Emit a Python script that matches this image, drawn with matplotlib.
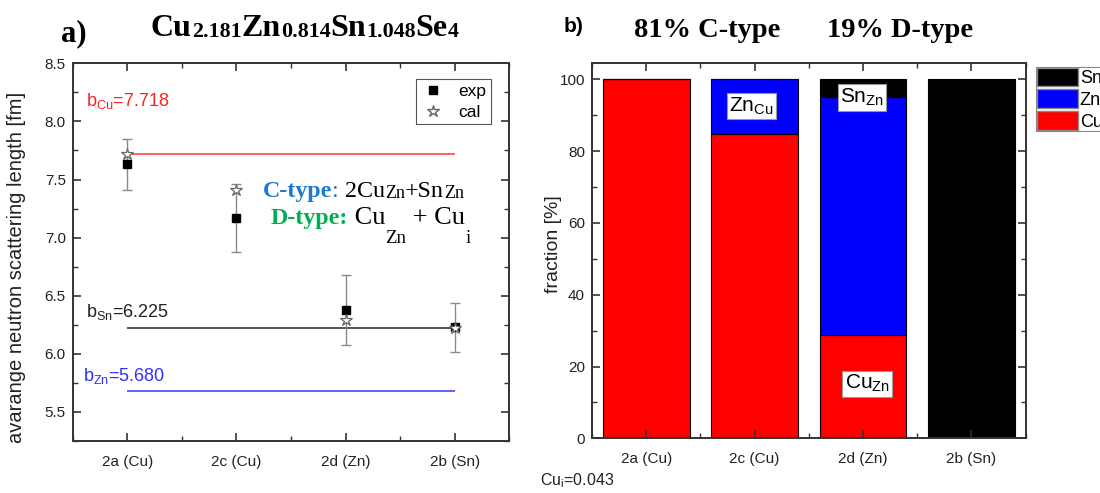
import matplotlib
matplotlib.use("Agg")
import matplotlib.pyplot as plt
from matplotlib.lines import Line2D
from matplotlib.patches import Patch
from matplotlib.ticker import MultipleLocator, FormatStrFormatter

plt.rcParams['font.family'] = ['Liberation Sans', 'DejaVu Sans']
plt.rcParams['mathtext.fontset'] = 'custom'
plt.rcParams['mathtext.rm'] = 'Liberation Sans'
plt.rcParams['mathtext.it'] = 'Liberation Sans:italic'
plt.rcParams['mathtext.bf'] = 'Liberation Sans:bold'

# ---------------- data ----------------
sites = ['2a (Cu)', '2c (Cu)', '2d (Zn)', '2b (Sn)']
b_exp = [7.63, 7.17, 6.38, 6.23]
b_err = [0.22, 0.295, 0.30, 0.21]
b_cal = [7.718, 7.41, 6.29, 6.225]
b_Cu = 7.718
b_Sn = 6.225
b_Zn = 5.680
frac_Cu = [100.0, 84.8, 28.7, 0.0]
frac_Zn = [0.0, 15.2, 66.3, 0.0]
frac_Sn = [0.0, 0.0, 5.0, 100.0]
Cu_i = 0.043

W, H = 1100, 493
fig = plt.figure(figsize=(W / 100, H / 100), dpi=100)

def axrect(l, t, r, b):
    return [l / W, (H - b) / H, (r - l) / W, (b - t) / H]

ax1 = fig.add_axes(axrect(72.7, 63.3, 509.3, 441))
ax2 = fig.add_axes(axrect(592, 63.3, 1025.7, 438.3))

xpos = list(range(1, len(sites) + 1))

def style(ax):
    for s in ax.spines.values():
        s.set_linewidth(1.4)
        s.set_color('#333333')
    ax.tick_params(which='both', direction='in', top=True, right=True,
                   color='#333333', labelsize=11, labelcolor='#222222')
    ax.tick_params(which='major', length=6, width=1.2)
    ax.tick_params(which='minor', length=3.5, width=1.0)
    ax.tick_params(axis='x', pad=10)
    ax.tick_params(axis='y', pad=5)

# ---------------- left panel ----------------
ax1.hlines(b_Cu, xpos[0], xpos[-1], color='#ff4545', lw=1.2)
ax1.hlines(b_Sn, xpos[0], xpos[-1], color='#333333', lw=1.2)
ax1.hlines(b_Zn, xpos[0], xpos[-1], color='#4545ff', lw=1.2)
ax1.errorbar(xpos, b_exp, yerr=b_err, fmt='none', ecolor='#8a8a8a',
             elinewidth=1.0, capsize=3.5, capthick=1.0)
ax1.plot(xpos, b_exp, 's', color='black', markersize=6, zorder=4)
ax1.plot(xpos, b_cal, '*', mfc='white', mec='#666666', mew=0.9,
         markersize=9, zorder=5)
ax1.set_xlim(0.5, 4.5)
ax1.set_ylim(5.25, 8.5)
ax1.set_xticks(xpos)
ax1.set_xticklabels(sites)
ax1.xaxis.set_minor_locator(MultipleLocator(0.5))
ax1.yaxis.set_major_locator(MultipleLocator(0.5))
ax1.yaxis.set_minor_locator(MultipleLocator(0.25))
ax1.yaxis.set_major_formatter(FormatStrFormatter('%.1f'))
style(ax1)
ax1.set_ylabel('avarange neutron scattering length [fm]', fontsize=14.5,
               color='#222222')
ax1.yaxis.set_label_coords(-0.107, 0.46)

ax1.text(0.622, 8.133, r'b$_{\rm Cu}$=7.718', color='#ff2020', fontsize=13,
         va='baseline', ha='left')
ax1.text(0.622, 6.32, r'b$_{\rm Sn}$=6.225', color='#222222', fontsize=13,
         va='baseline', ha='left')
ax1.text(0.596, 5.77, r'b$_{\rm Zn}$=5.680', color='#3030ff', fontsize=13,
         va='baseline', ha='left')

leg_handles = [Line2D([], [], marker='s', ls='none', color='black', markersize=6),
               Line2D([], [], marker='*', ls='none', mfc='white', mec='#666666',
                      markersize=9)]
leg1 = ax1.legend(leg_handles, ['exp', 'cal'], loc='upper right',
                  bbox_to_anchor=(0.958, 0.9576), fontsize=12.5, frameon=True,
                  fancybox=False, edgecolor='#555555', framealpha=1,
                  handlelength=1.5, handletextpad=0.7, borderpad=0.25,
                  labelspacing=0.35, borderaxespad=0)
leg1.get_frame().set_linewidth(0.8)


def chain(ax, x0, y0, pieces, coords='data'):
    t = None
    for txt, props, dy in pieces:
        if t is None:
            t = ax.annotate(txt, xy=(x0, y0), xycoords=coords,
                            xytext=(0, dy), textcoords='offset points',
                            va='baseline', ha='left', annotation_clip=False,
                            **props)
        else:
            t = ax.annotate(txt, xy=(1, y0), xycoords=(t, coords),
                            xytext=(0, dy), textcoords='offset points',
                            va='baseline', ha='left', annotation_clip=False,
                            **props)
    return t

serif = ['Liberation Serif', 'DejaVu Serif']
blue_c = '#1f78d2'
green_c = '#00b050'
chain(ax1, 2.24, 7.35, [
    ('C-type', dict(family=serif, weight='bold', color=blue_c, fontsize=17.3), 0),
    (': ', dict(family=serif, color=blue_c, fontsize=17.3), 0),
    ('2Cu', dict(family=serif, color='black', fontsize=17.3), 0),
    ('Zn', dict(family=serif, color='black', fontsize=13), -1),
    ('+Sn', dict(family=serif, color='black', fontsize=17.3), 0),
    ('Zn', dict(family=serif, color='black', fontsize=13), -1),
])
chain(ax1, 2.31, 7.12, [
    ('D-type:', dict(family=serif, weight='bold', color=green_c, fontsize=17.3), 0),
    (' Cu', dict(family=serif, color='black', fontsize=19), 0),
    ('Zn', dict(family=serif, color='black', fontsize=13.5), -14),
    (' + Cu', dict(family=serif, color='black', fontsize=19), 0),
    ('i', dict(family=serif, color='black', fontsize=13.5), -14),
])

# titles for panel a
fig.text(61 / W, (H - 41) / H, 'a)', family=serif, weight='bold',
         fontsize=22, va='baseline', ha='left')
big = dict(family=serif, weight='bold', color='black', fontsize=23)
small = dict(family=serif, weight='bold', color='black', fontsize=15.8)
chain(ax1, 151, H - 36, [
    ('Cu', big, 0), ('2.181', small, -1),
    ('Zn', big, 0), ('0.814', small, -1),
    ('Sn', big, 0), ('1.048', small, -1),
    ('Se', big, 0), ('4', small, -1),
], coords='figure pixels')

# ---------------- right panel ----------------
bw = 0.8
ax2.bar(xpos, frac_Cu, bw, color='#ff0000', edgecolor='black', lw=0.8,
        label='Cu')
ax2.bar(xpos, frac_Zn, bw, bottom=frac_Cu, color='#0000ff', edgecolor='black',
        lw=0.8, label='Zn')
bottom_Sn = [c + z for c, z in zip(frac_Cu, frac_Zn)]
ax2.bar(xpos, frac_Sn, bw, bottom=bottom_Sn, color='#000000',
        edgecolor='black', lw=0.8, label='Sn')
ax2.set_xlim(0.5, 4.5)
ax2.set_ylim(0, 104.5)
ax2.set_xticks(xpos)
ax2.set_xticklabels(sites)
ax2.xaxis.set_minor_locator(MultipleLocator(0.5))
ax2.yaxis.set_major_locator(MultipleLocator(20))
ax2.yaxis.set_minor_locator(MultipleLocator(10))
style(ax2)
ax2.set_ylabel('fraction [%]', fontsize=14, color='#222222')
ax2.yaxis.set_label_coords(-0.07, 0.518)

box = dict(facecolor='white', edgecolor='#999999', boxstyle='square,pad=0.12',
           lw=0.8)
ax2.text(1.97, 92.6, r'Zn$_{\rm Cu}$', ha='center', va='center', fontsize=15,
         bbox=box)
ax2.text(2.99, 95.0, r'Sn$_{\rm Zn}$', ha='center', va='center', fontsize=15,
         bbox=box)
ax2.text(3.04, 15.2, r'Cu$_{\rm Zn}$', ha='center', va='center', fontsize=15,
         bbox=box)

fig.text(564 / W, (H - 32) / H, 'b)', weight='bold', fontsize=15,
         va='baseline', ha='left')
fig.text(634 / W, (H - 37) / H, '81% C-type', family=serif, weight='bold',
         fontsize=20.5, va='baseline', ha='left')
fig.text(827 / W, (H - 37) / H, '19% D-type', family=serif, weight='bold',
         fontsize=20.5, va='baseline', ha='left')
fig.text(540 / W, 8 / H, r'Cu$_{\rm i}$=%.3f' % Cu_i, fontsize=11.5,
         color='#222222', va='baseline', ha='left')

handles = [Patch(facecolor='#000000', edgecolor='#888888', lw=1),
           Patch(facecolor='#0000ff', edgecolor='#888888', lw=1),
           Patch(facecolor='#ff0000', edgecolor='#888888', lw=1)]
leg2 = fig.legend(handles, ['Sn', 'Zn', 'Cu'], loc='upper left',
                  bbox_to_anchor=(1036 / W, (H - 66.7) / H), fontsize=13,
                  frameon=True, fancybox=False, edgecolor='#888888',
                  framealpha=1, handlelength=2.28, handleheight=1.17,
                  handletextpad=0.1, borderpad=0.05, labelspacing=0.15,
                  borderaxespad=0)
leg2.get_frame().set_linewidth(0.8)

fig.savefig('out.png', dpi=100)
